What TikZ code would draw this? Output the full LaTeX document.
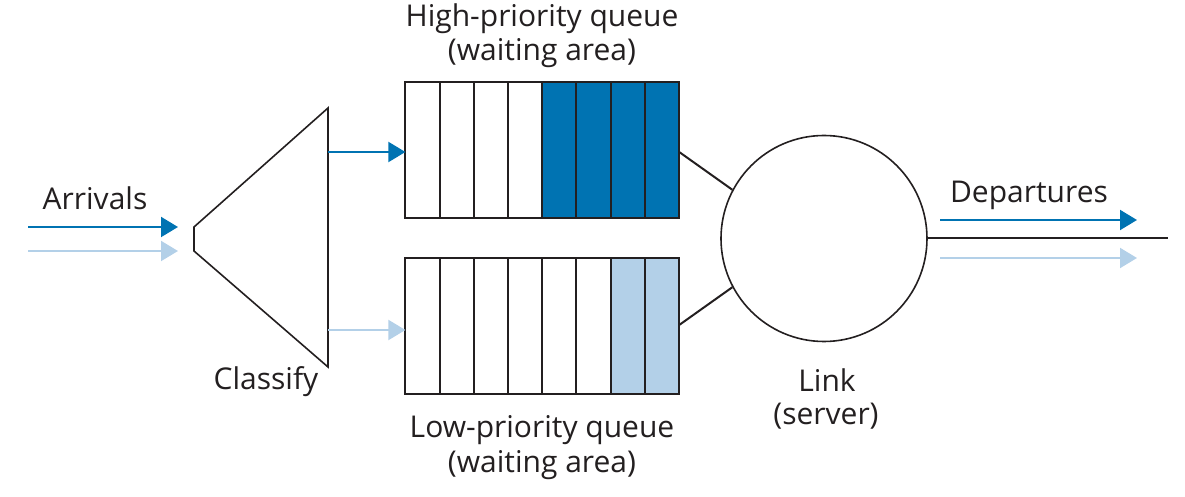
\documentclass[tikz,border=0pt]{standalone}
\usepackage{fontspec}
\setmainfont{Open Sans}
\usetikzlibrary{arrows.meta,positioning}
\definecolor{hiblue}{RGB}{0,115,178}
\definecolor{loblue}{RGB}{179,208,232}
\definecolor{ink}{RGB}{35,31,32}
\tikzset{
  lbl/.style={font=\fontsize{15pt}{18pt}\selectfont, text=ink, inner sep=0pt, anchor=base},
  flow/.style={line width=1pt, -{Triangle[length=8.5pt,width=10pt]}},
  hiflow/.style={flow, draw=hiblue, color=hiblue},
  loflow/.style={flow, draw=loblue, color=loblue},
  cell/.style={draw=ink, line width=1pt, minimum width=17.2pt, minimum height=68pt, inner sep=0pt, outer sep=0pt},
  wire/.style={draw=ink, line width=1pt},
}
\begin{document}
\begin{tikzpicture}[x=0.5pt,y=-0.5pt]
\useasboundingbox (0,0) rectangle (1185,497);
% classifier trapezoid
\draw[ink, line width=0.8pt, line join=miter] (194,227) -- (328,108) -- (328,367) -- (194,251) -- cycle;
\coordinate (clsIn1) at (178,227);
\coordinate (clsIn2) at (178,251);
\coordinate (arrS1) at (28,227);
\coordinate (arrS2) at (28,251);
\coordinate (clsOutH) at (328,152);
\coordinate (clsOutL) at (328,330);
\node[lbl] (arrivals) at (95,210) {Arrivals};
\node[lbl] (classify) at (266,390) {Classify};
\draw[hiflow] (arrS1) -- (clsIn1);
\draw[loflow] (arrS2) -- (clsIn2);
% high queue cells
\foreach \i in {1,...,8} {
  \pgfmathsetmacro{\cx}{405.5+34.2*(\i-0.5)}
  \ifnum\i>4
    \node[cell, fill=hiblue] (h\i) at (\cx,150.5) {};
  \else
    \node[cell, fill=white] (h\i) at (\cx,150.5) {};
  \fi
}
\foreach \i in {1,...,8} {
  \pgfmathsetmacro{\cx}{405.5+34.2*(\i-0.5)}
  \ifnum\i>6
    \node[cell, fill=loblue] (l\i) at (\cx,326.5) {};
  \else
    \node[cell, fill=white] (l\i) at (\cx,326.5) {};
  \fi
}
\draw[hiflow] (clsOutH) -- (h1.west |- clsOutH);
\draw[loflow] (clsOutL) -- (l1.west |- clsOutL);
\node[lbl] (hq1) at (542,27) {High-priority queue};
\node[lbl] (hq2) at (542,61) {(waiting area)};
\node[lbl] (lq1) at (542,438) {Low-priority queue};
\node[lbl] (lq2) at (542,473) {(waiting area)};
% server
\node[circle, draw=ink, line width=0.8pt, minimum size=103pt, inner sep=0pt] (link) at (824,238.5) {};
\node[lbl] (link1) at (827,392) {Link};
\node[lbl] (link2) at (826,425) {(server)};
\draw[wire] (h8.east |- 0,152) -- (link.152);
\draw[wire] (l8.east |- 0,325) -- (link.208);
\coordinate (outEnd) at (1168,238.5);
\draw[wire] (link.east) -- (outEnd);
\coordinate (depS1) at (940,220);
\coordinate (depE1) at (1137,220);
\coordinate (depS2) at (940,258);
\coordinate (depE2) at (1137,258);
\draw[hiflow] (depS1) -- (depE1);
\draw[loflow] (depS2) -- (depE2);
\node[lbl] (departures) at (1029,203) {Departures};
\end{tikzpicture}
\end{document}
